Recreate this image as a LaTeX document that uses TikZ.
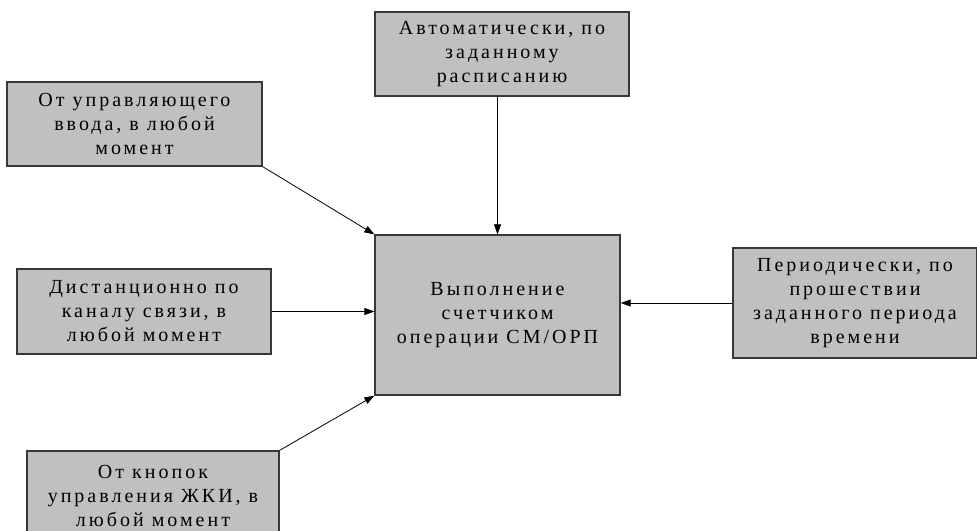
\documentclass[tikz,border=0pt]{standalone}
\usepackage{fontspec}
\setmainfont[LetterSpace=15]{Liberation Serif}
\usetikzlibrary{arrows.meta}
\definecolor{boxgray}{HTML}{C0C0C0}
\definecolor{boxline}{HTML}{383838}
\tikzstyle{way} = [rectangle, draw=boxline, fill=boxgray, line width=1.3pt, text centered, align=center, inner sep=0pt, font=\rmfamily\fontsize{20}{24}\selectfont]
\tikzstyle{op} = [way]
\tikzstyle{start_step} = [line width=0.8pt, black, -{Triangle[length=10pt, width=7pt]}]

\begin{document}
\begin{tikzpicture}[x=1pt, y=1pt]

    \useasboundingbox (0,0) rectangle (977,530);
    \clip (0,0) rectangle (977,530);

    \node (sched) [way, minimum width=254pt, minimum height=84pt] at (502,476) {Автоматически, по\\заданному\\расписанию};
    \node (ctrl) [way, minimum width=255pt, minimum height=84pt] at (134.5,406) {От управляющего\\ввода, в любой\\момент};
    \node (remote) [way, minimum width=254pt, minimum height=85pt] at (144,218.5) {Дистанционно по\\каналу связи, в\\любой момент};
    \node (lcd) [way, minimum width=252pt, minimum height=90pt] at (153,34) {От кнопок\\управления ЖКИ, в\\любой момент};
    \node (period) [way, minimum width=244pt, minimum height=110pt] at (855,227) {Периодически, по\\прошествии\\заданного периода\\времени};

    \node (main) [op, minimum width=245pt, minimum height=160pt] at (497.5,215) {Выполнение\\счетчиком\\операции СМ/ОРП};

    \draw [start_step] (sched.south -| main.north) -- (main.north);
    \draw [start_step] (ctrl.south east) -- (main.north west);
    \draw [start_step] (remote.east) -- (remote.east -| main.west);
    \draw [start_step] (lcd.north east) -- (main.south west);
    \draw [start_step] (period.west) -- (period.west -| main.east);

\end{tikzpicture}
\end{document}
